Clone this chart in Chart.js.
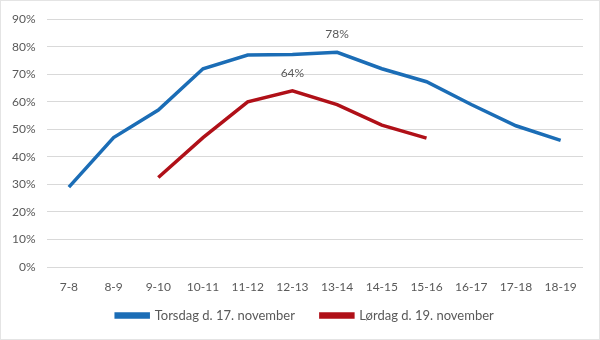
<!DOCTYPE html>
<html>
<head>
<meta charset="utf-8">
<script src="https://cdn.jsdelivr.net/npm/chart.js@4"></script>
<style>
    html, body { margin: 0; padding: 0; background: #fff; }
    #wrap {
        width: 598px;
        height: 338px;
        border: 1px solid #e4e4e4;
        position: relative;
    }
</style>
</head>
<body>
<div id="wrap"><canvas id="chart" width="598" height="338"></canvas></div>
<script>
// Timer på dagen
const hours = ['7-8', '8-9', '9-10', '10-11', '11-12', '12-13', '13-14', '14-15', '15-16', '16-17', '17-18', '18-19'];

// Belægning i procent
const torsdag = [29, 47, 57, 72, 77, 77.2, 78, 72, 67.3, 59, 51.3, 46];
const loerdag = [null, null, 32.5, 47, 60, 64, 59, 51.5, 46.8, null, null, null];

const yTicks = [0, 10, 20, 30, 40, 50, 60, 70, 80, 90];

// Punkter med værdilabel
const torsdagLabels = [6];
const loerdagLabels = [5];

const textColor = '#595959';
const font = { family: 'Lato, "Open Sans", sans-serif', size: 12 };

// Tegner procentlabels over udvalgte punkter
const pointLabels = {
    id: 'pointLabels',
    afterDatasetsDraw(chart) {
        const ctx = chart.ctx;
        const lists = [torsdagLabels, loerdagLabels];
        ctx.save();
        ctx.fillStyle = textColor;
        ctx.font = '12px ' + font.family;
        ctx.textAlign = 'center';
        ctx.textBaseline = 'bottom';
        chart.data.datasets.forEach((ds, i) => {
            const meta = chart.getDatasetMeta(i);
            lists[i].forEach(idx => {
                const pt = meta.data[idx];
                ctx.fillText(Math.round(ds.data[idx]) + '%', pt.x, pt.y - 12);
            });
        });
        ctx.restore();
    }
};

// x-aksens labels må hænge ned i luften over legenden, og legenden rykkes lidt mod højre
const layoutTweaks = {
    id: 'layoutTweaks',
    afterLayout(chart) {
        if (chart.legend) {
            chart.legend.left += 13;
            chart.legend.right += 13;
        }
        chart.scales.x._computeLabelArea = () => undefined;
    }
};

new Chart(document.getElementById('chart'), {
    type: 'line',
    data: {
        labels: hours,
        datasets: [
            {
                label: 'Torsdag d. 17. november',
                data: torsdag,
                borderColor: '#1b6db6',
                backgroundColor: '#1b6db6',
                borderWidth: 3.5,
                pointRadius: 0,
                tension: 0
            },
            {
                label: 'Lørdag d. 19. november',
                data: loerdag,
                borderColor: '#b01018',
                backgroundColor: '#b01018',
                borderWidth: 3.5,
                pointRadius: 0,
                tension: 0
            }
        ]
    },
    options: {
        responsive: false,
        animation: false,
        layout: { padding: { top: 4, right: 16, left: 0, bottom: 7 } },
        scales: {
            x: {
                offset: true,
                grid: { display: false },
                border: { display: false },
                ticks: { color: textColor, font: font, padding: 5, maxRotation: 0 },
                afterFit(axis) { axis.height = 16; }
            },
            y: {
                min: 0,
                max: 90,
                afterBuildTicks(axis) {
                    axis.ticks = yTicks.map(v => ({ value: v }));
                },
                grid: { color: '#d9d9d9', lineWidth: 1, drawTicks: false },
                border: { display: false },
                ticks: {
                    color: textColor,
                    font: font,
                    padding: 11,
                    callback: v => v + '%'
                }
            }
        },
        plugins: {
            legend: {
                position: 'bottom',
                labels: {
                    color: textColor,
                    font: { family: font.family, size: 13 },
                    boxWidth: 32,
                    boxHeight: 3,
                    padding: 26
                }
            },
            tooltip: { enabled: false }
        }
    },
    plugins: [pointLabels, layoutTweaks]
});
</script>
</body>
</html>
